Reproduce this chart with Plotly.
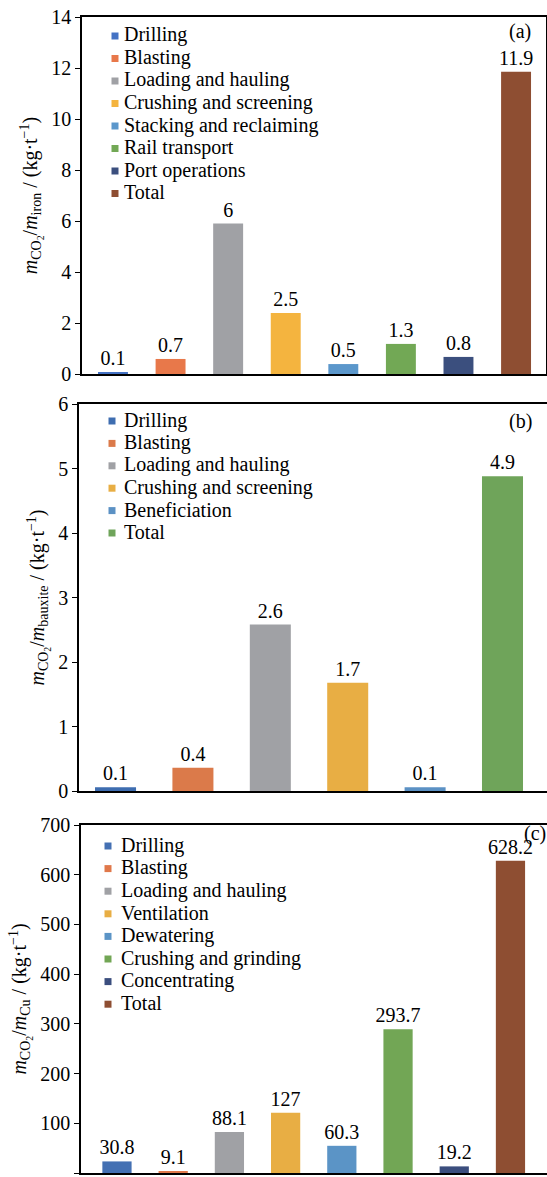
import plotly.graph_objects as go

W, H = 547, 1177
FONT = "'Liberation Serif', 'Times New Roman', Times, serif"

# ---------------- data ----------------
a_cats = ["Drilling", "Blasting", "Loading and hauling", "Crushing and screening",
          "Stacking and reclaiming", "Rail transport", "Port operations", "Total"]
a_vals = [0.05, 0.59, 5.9, 2.39, 0.39, 1.18, 0.67, 11.85]
a_labels = ["0.1", "0.7", "6", "2.5", "0.5", "1.3", "0.8", "11.9"]
a_colors = ["#4472c4", "#e8784a", "#a0a1a5", "#f4b43f", "#5b97cb", "#72a855", "#3b4f7e", "#8e4e32"]

b_cats = ["Drilling", "Blasting", "Loading and hauling", "Crushing and screening",
          "Beneficiation", "Total"]
b_vals = [0.06, 0.36, 2.58, 1.68, 0.06, 4.88]
b_labels = ["0.1", "0.4", "2.6", "1.7", "0.1", "4.9"]
b_colors = ["#3e6db0", "#db7a4a", "#a0a1a5", "#e8ae44", "#5b91c4", "#6fa45a"]

c_cats = ["Drilling", "Blasting", "Loading and hauling", "Ventilation", "Dewatering",
          "Crushing and grinding", "Concentrating", "Total"]
c_vals = [23.3, 3.3, 82.7, 121, 54.7, 289, 13.3, 628]
c_labels = ["30.8", "9.1", "88.1", "127", "60.3", "293.7", "19.2", "628.2"]
c_colors = ["#4470b3", "#e0784a", "#a0a1a5", "#e8ae44", "#5b94c6", "#72a655", "#3b4e7e", "#8e4e32"]

# ---------------- layout helpers ----------------
def py(p):  # pixel y -> paper y
    return 1 - p / H

def px(p):
    return p / W

panels = [
    dict(cats=a_cats, vals=a_vals, labels=a_labels, colors=a_colors,
         xdom=[px(82), px(546)], ydom=[py(374), py(17)],
         xr=[-0.538, 7.52], yr=[0, 14], dtick=2, width=0.52,
         title="<i>m</i><sub>CO<sub>2</sub></sub>/<i>m</i><sub>iron</sub> / (kg·t<sup>−1</sup>)",
         leg=dict(mx=115, tx=123, y0=35, dy=22.5), tag="(a)", tag_xy=(532, 32)),
    dict(cats=b_cats, vals=b_vals, labels=b_labels, colors=b_colors,
         xdom=[px(79), 1.0], ydom=[py(791), py(404)],
         xr=[-0.472, 5.575], yr=[0, 6], dtick=1, width=0.53,
         title="<i>m</i><sub>CO<sub>2</sub></sub>/<i>m</i><sub>bauxite</sub> / (kg·t<sup>−1</sup>)",
         leg=dict(mx=112, tx=123, y0=420, dy=22.4), tag="(b)", tag_xy=(533, 422)),
    dict(cats=c_cats, vals=c_vals, labels=c_labels, colors=c_colors,
         xdom=[px(81), 1.0], ydom=[py(1173), py(825)],
         xr=[-0.64, 7.65], yr=[0, 700], dtick=100, width=0.52,
         title="<i>m</i><sub>CO<sub>2</sub></sub>/<i>m</i><sub>Cu</sub> / (kg·t<sup>−1</sup>)",
         leg=dict(mx=108, tx=120, y0=845, dy=22.6), tag="(c)", tag_xy=(547, 833)),
]

fig = go.Figure()
layout = dict(
    width=W, height=H, margin=dict(l=0, r=0, t=0, b=0, autoexpand=False),
    paper_bgcolor="white", plot_bgcolor="white",
    barmode="overlay", showlegend=False,
    font=dict(family=FONT, size=19, color="black"),
)
annotations = []
shapes = []

for i, p in enumerate(panels):
    n = i + 1
    xa = "x" if n == 1 else f"x{n}"
    ya = "y" if n == 1 else f"y{n}"
    for j, cat in enumerate(p["cats"]):
        fig.add_trace(go.Bar(
            x=[j], y=[p["vals"][j]], name=cat,
            marker=dict(color=p["colors"][j], line=dict(width=0)),
            width=p["width"], text=[p["labels"][j]], textposition="outside",
            constraintext="none",
            textfont=dict(family=FONT, size=20, color="black"),
            cliponaxis=False, xaxis=xa, yaxis=ya,
            hoverinfo="skip",
        ))
        # legend entry (layout element, placed in paper coordinates)
        lg = p["leg"]
        yc = lg["y0"] + j * lg["dy"]
        shapes.append(dict(
            type="rect", xref="paper", yref="paper",
            x0=px(lg["mx"] - 3.5), x1=px(lg["mx"] + 3.5),
            y0=py(yc - 3.5 + 1), y1=py(yc + 3.5 + 1),
            fillcolor=p["colors"][j], line=dict(width=0),
        ))
        annotations.append(dict(
            text=cat, x=px(lg["tx"]), y=py(yc), xref="paper", yref="paper",
            xanchor="left", yanchor="middle", showarrow=False,
            font=dict(family=FONT, size=20, color="black"), borderpad=0,
        ))
    layout[f"xaxis{'' if n == 1 else n}"] = dict(
        domain=p["xdom"], range=p["xr"], anchor=ya, automargin=False,
        showticklabels=False, ticks="", showgrid=False, zeroline=False,
        showline=True, linecolor="black", linewidth=1.5, mirror=True,
    )
    layout[f"yaxis{'' if n == 1 else n}"] = dict(
        domain=p["ydom"], range=p["yr"], dtick=p["dtick"], anchor=xa, automargin=False,
        ticks="outside", ticklen=5, tickwidth=1.2, tickcolor="black",
        showgrid=False, zeroline=False,
        showline=True, linecolor="black", linewidth=1.5, mirror=True,
        tickfont=dict(family=FONT, size=20),
        title=dict(text=p["title"], font=dict(family=FONT, size=20), standoff=8),
    )
    tx, ty = p["tag_xy"]
    annotations.append(dict(
        text=p["tag"], x=px(tx), y=py(ty), xref="paper", yref="paper",
        xanchor="right", yanchor="middle", showarrow=False, borderpad=0,
        font=dict(family=FONT, size=20, color="black"),
    ))

layout["annotations"] = annotations
layout["shapes"] = shapes
fig.update_layout(**layout)
fig.write_html("out.html", config={"displayModeBar": False},
               post_script="document.body.style.margin='0px';")
